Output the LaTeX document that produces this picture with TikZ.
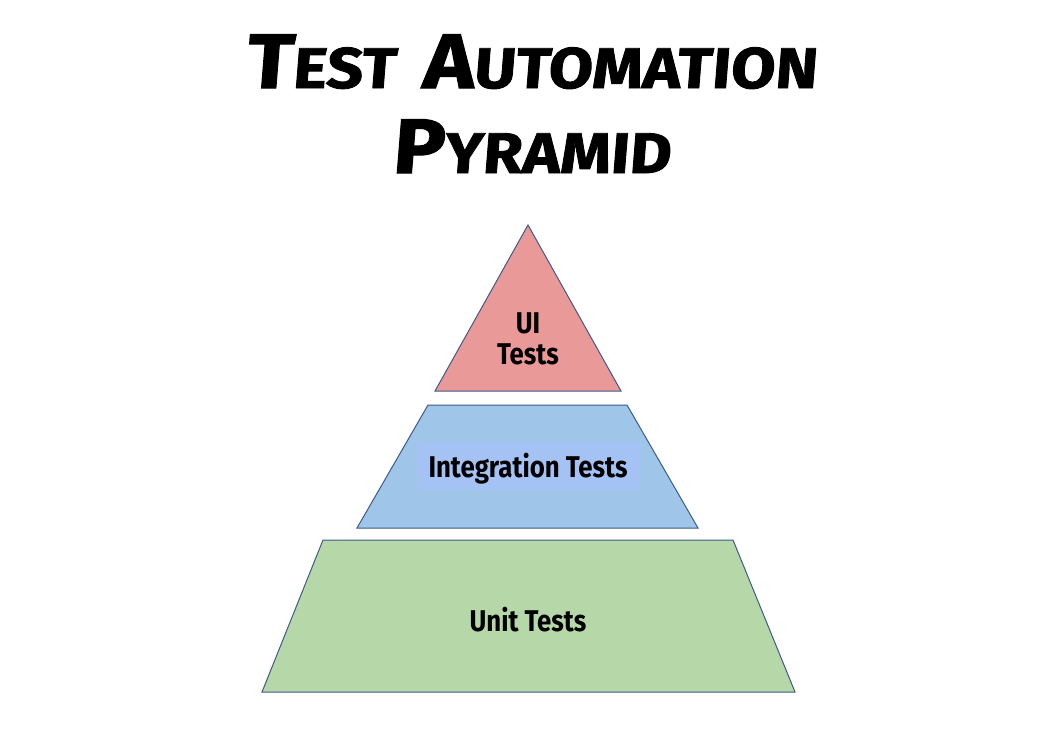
\documentclass[tikz,border=0pt]{standalone}
\usepackage{fontspec}
\newfontfamily\titlefont{Fira Sans}[UprightFont=* Bold, FakeBold=1.5, FakeSlant=0.08, FakeStretch=1.12]
\newfontfamily\labelfont{Fira Sans}[UprightFont=* Bold, FakeStretch=0.86]
\definecolor{uipink}{HTML}{EA9999}
\definecolor{intblue}{HTML}{9FC5E8}
\definecolor{hiblue}{HTML}{A4C2F4}
\definecolor{unitgreen}{HTML}{B6D7A8}
\definecolor{edge}{HTML}{3D5A8A}
\tikzset{
  layer/.style={draw=edge, line width=0.75pt, line join=miter},
  lbl/.style={font=\labelfont\fontsize{22.5}{25}\selectfont, text=black, inner sep=0pt, align=center},
  ttl/.style={inner sep=0pt, anchor=base, text=black}
}
\newcommand{\bigL}[1]{{\fontsize{58}{60}\selectfont #1}}
\newcommand{\smL}[1]{{\fontsize{43}{45}\selectfont #1}}
\begin{document}
\begin{tikzpicture}[x=0.75pt,y=-0.75pt]
\useasboundingbox (0,0) rectangle (1057,732);
\fill[white] (0,0) rectangle (1057,732);
% title
\node[ttl] (t1) at (531,88) {\titlefont\bigL{T}\smL{EST}\hspace{20pt}\bigL{A}\smL{UTOMATION}};
\node[ttl] (t2) at (531,173) {\titlefont\bigL{P}\smL{YRAMID}};
% layers
\draw[layer, fill=uipink] (528,225) -- (621,391) -- (435,391) -- cycle;
\draw[layer, fill=intblue] (428,405) -- (627,405) -- (698,528) -- (357,528) -- cycle;
\fill[hiblue] (417,442) rectangle (640,490);
\draw[layer, fill=unitgreen] (323,540) -- (733,540) -- (795,692) -- (262,692) -- cycle;
% labels
\node[lbl] (ui) at (528,339) {UI\\[-2pt]Tests};
\node[lbl] (it) at (528,469) {Integration Tests};
\node[lbl] (ut) at (528,620) {Unit Tests};
\end{tikzpicture}
\end{document}
